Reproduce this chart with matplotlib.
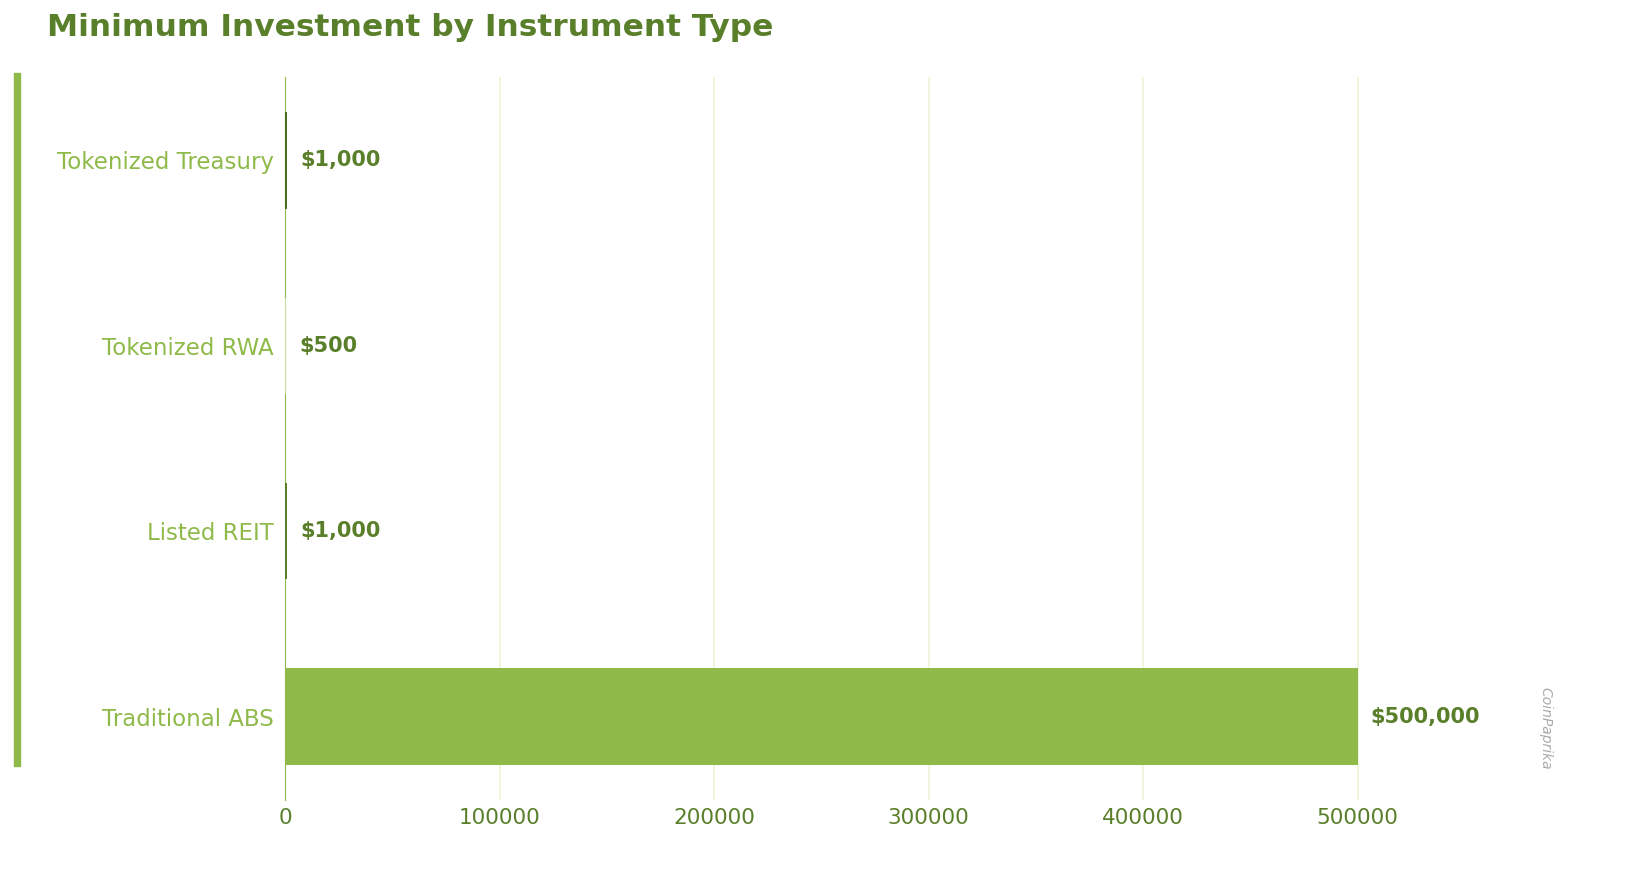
import matplotlib
matplotlib.use("Agg")
import matplotlib.pyplot as plt
from matplotlib.patches import Rectangle

categories = ["Traditional ABS", "Listed REIT", "Tokenized RWA", "Tokenized Treasury"]
values = [500000, 1000, 500, 1000]
labels = ["$500,000", "$1,000", "$500", "$1,000"]
colors = ["#8fba4a", "#5a7f2a", "#c9df9f", "#4a6b1f"]

fig = plt.figure(figsize=(16.28, 8.77), dpi=100)
ax = fig.add_axes([285/1628, 1-800/877, (1555-285)/1628, (800-77)/877])
ax.barh(range(len(categories)), values, height=0.52, color=colors, zorder=3)
ax.set_yticks(range(len(categories)))
ax.set_yticklabels(categories, color="#8fba4a", fontsize=16.5)
ax.set_ylim(-0.45, 3.45)
ax.set_xlim(0, 592000)
ax.set_xticks([0, 100000, 200000, 300000, 400000, 500000])
ax.tick_params(axis="x", colors="#5a7f2a", labelsize=15.5, length=0, pad=6)
ax.tick_params(axis="y", length=0, pad=8)
ax.grid(axis="x", color="#eef5d8", linewidth=1.2, zorder=0)
for s in ["top", "right", "bottom"]:
    ax.spines[s].set_visible(False)
ax.spines["left"].set_color("#8fba4a")
for i, (v, l) in enumerate(zip(values, labels)):
    ax.text(v + 6000, i, l, va="center", ha="left", fontsize=15,
            fontweight="bold", color="#5a7f2a")
fig.text(47/1628, 1-27/877, "Minimum Investment by Instrument Type", fontsize=22.5,
         fontweight="bold", color="#5a7f2a", va="center", ha="left")
fig.patches.append(Rectangle((14/1628, 1-766/877), 6/1628, (766-73)/877,
                             transform=fig.transFigure, color="#8fba4a"))
fig.text(1545/1628, 1-728/877, "CoinPaprika", rotation=-90, fontsize=10,
         style="italic", color="#aaaaaa", ha="center", va="center")
fig.savefig("out.png", dpi=100)
